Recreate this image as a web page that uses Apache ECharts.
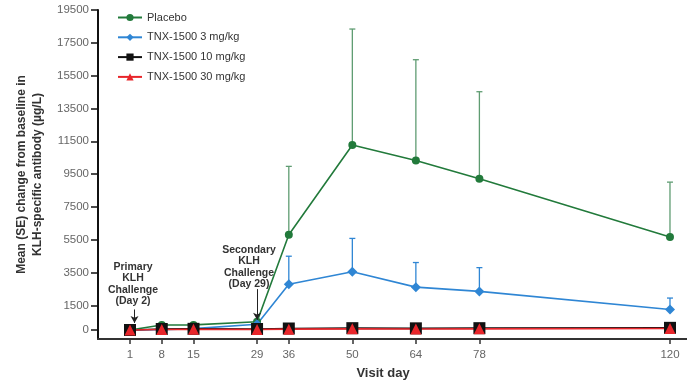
<!DOCTYPE html>
<html>
<head>
<meta charset="utf-8">
<script src="https://cdn.jsdelivr.net/npm/echarts@6/dist/echarts.min.js"></script>
<style>
  html, body { margin: 0; padding: 0; background: #fff; }
  #chart { width: 687px; height: 385px; }
</style>
</head>
<body>
<div id="chart"></div>
<script>
// 数据
const days = [1, 8, 15, 29, 36, 50, 64, 78, 120]
const yTicks = [0, 1500, 3500, 5500, 7500, 9500, 11500, 13500, 15500, 17500, 19500]

const placebo = [0, 300, 310, 500, 5800, 11270, 10330, 9210, 5660]
const placeboSE = [0, 0, 0, 0, 4170, 7070, 6140, 5310, 3350]
const dose3 = [0, 20, 80, 350, 2790, 3550, 2610, 2350, 1245]
const dose3SE = [0, 0, 0, 0, 1705, 2030, 1500, 1450, 700]
const dose10 = [0, 60, 70, 60, 90, 110, 100, 110, 130]
const dose30 = [0, 30, 40, 30, 50, 70, 60, 70, 90]

const green = '#227a3b'
const blue = '#2f86d4'
const red = '#e8262b'
const black = '#111111'

const chart = echarts.init(document.getElementById('chart'))

const pairs = vals => days.map((d, i) => [d, vals[i]])

// 误差线 (只画上半部分)
const errBars = (vals, se, color) => ({
  type: 'custom',
  silent: true,
  z: 1,
  data: days.map((d, i) => [d, vals[i], vals[i] + se[i]]).filter((r, i) => se[i] > 0),
  renderItem: function (params, api) {
    const lo = api.coord([api.value(0), api.value(1)])
    const hi = api.coord([api.value(0), api.value(2)])
    const cap = 3
    return {
      type: 'group',
      children: [
        { type: 'line', shape: { x1: lo[0], y1: lo[1], x2: hi[0], y2: hi[1] }, style: { stroke: color, lineWidth: 1.3 } },
        { type: 'line', shape: { x1: hi[0] - cap, y1: hi[1], x2: hi[0] + cap, y2: hi[1] }, style: { stroke: color, lineWidth: 1.3 } }
      ]
    }
  }
})

const lineSeries = (name, vals, color, symbol, size) => ({
  name,
  type: 'line',
  data: pairs(vals),
  symbol,
  symbolSize: size,
  lineStyle: { color, width: 1.6 },
  itemStyle: { color },
  z: 3
})

// 注释文字样式
const annoStyle = {
  fill: '#333',
  fontSize: 10.5,
  fontWeight: 'bold',
  fontFamily: '"Liberation Sans", Arial, sans-serif',
  align: 'center',
  lineHeight: 11.5
}

const option = {
  animation: false,
  textStyle: { fontFamily: '"Liberation Sans", Arial, sans-serif' },
  grid: { left: 98, right: 0, top: 10, bottom: 42 },
  legend: {
    orient: 'vertical',
    left: 112,
    top: 7,
    itemWidth: 24,
    itemHeight: 9,
    itemGap: 8.8,
    textStyle: { fontSize: 11, color: '#333' },
    data: ['Placebo', 'TNX-1500 3 mg/kg', 'TNX-1500 10 mg/kg', 'TNX-1500 30 mg/kg']
  },
  xAxis: {
    type: 'value',
    min: -6.05,
    max: 123.75,
    name: 'Visit day',
    nameLocation: 'middle',
    nameGap: 28,
    nameTextStyle: { fontSize: 13, fontWeight: 'bold', color: '#333', padding: [0, 19, 0, 0] },
    axisLine: { onZero: false, lineStyle: { color: '#333', width: 2 } },
    axisTick: { show: true, length: 5, lineStyle: { color: '#333', width: 1.5 }, customValues: days },
    axisLabel: { color: '#666', fontSize: 11.5, margin: 10, customValues: days },
    splitLine: { show: false }
  },
  yAxis: {
    type: 'value',
    min: -550,
    max: 19500,
    name: 'Mean (SE) change from baseline in\nKLH-specific antibody (µg/L)',
    nameLocation: 'middle',
    nameGap: 50,
    nameTextStyle: { fontSize: 12, fontWeight: 'bold', color: '#333', lineHeight: 16 },
    axisLine: { show: true, onZero: false, lineStyle: { color: '#111', width: 2 } },
    axisTick: { show: true, length: 7, lineStyle: { color: '#111', width: 1.5 }, customValues: yTicks },
    axisLabel: { color: '#666', fontSize: 11.5, margin: 9, customValues: yTicks, formatter: v => String(v) },
    splitLine: { show: false }
  },
  series: [
    errBars(placebo, placeboSE, '#5f9c72'),
    errBars(dose3, dose3SE, blue),
    lineSeries('Placebo', placebo, green, 'circle', 8),
    lineSeries('TNX-1500 3 mg/kg', dose3, blue, 'diamond', 10),
    lineSeries('TNX-1500 10 mg/kg', dose10, black, 'rect', 12),
    Object.assign(lineSeries('TNX-1500 30 mg/kg', dose30, red, 'triangle', 11), {
      markLine: {
        silent: true,
        symbol: ['none', 'arrow'],
        symbolSize: [6, 7],
        label: { show: false },
        lineStyle: { color: '#222', width: 1, type: 'solid' },
        data: [
          [{ coord: [2, 1250] }, { coord: [2, 430] }],
          [{ coord: [29, 2490] }, { coord: [29, 620] }]
        ]
      }
    })
  ],
  graphic: [
    { type: 'text', x: 133, y: 261, style: Object.assign({ text: 'Primary\nKLH\nChallenge\n(Day 2)' }, annoStyle) },
    { type: 'text', x: 249, y: 244, style: Object.assign({ text: 'Secondary\nKLH\nChallenge\n(Day 29)' }, annoStyle) }
  ]
}

chart.setOption(option)
</script>
</body>
</html>
